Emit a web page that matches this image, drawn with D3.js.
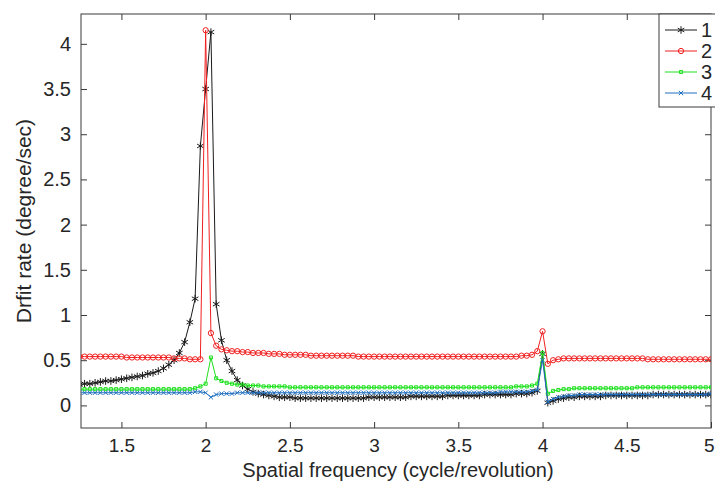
<!DOCTYPE html>
<head>
    <meta charset="utf-8">
    <script src="https://cdn.jsdelivr.net/npm/d3@7"></script>
    <style>
        body { margin: 0; background: #fff; }
        text { font-family: "Liberation Sans", Arial, sans-serif; fill: #262626; }
    </style>
</head>

<body>
    <div id="drift"></div>
</body>

<script>
    // spatial frequency (cycle/revolution)
    const freq = [
        1.25,1.28125,1.3125,1.34375,1.375,1.40625,1.4375,1.46875,
        1.5,1.53125,1.5625,1.59375,1.625,1.65625,1.6875,1.71875,
        1.75,1.78125,1.8125,1.84375,1.875,1.90625,1.9375,1.96875,
        2,2.03125,2.0625,2.09375,2.125,2.15625,2.1875,2.21875,
        2.25,2.28125,2.3125,2.34375,2.375,2.40625,2.4375,2.46875,
        2.5,2.53125,2.5625,2.59375,2.625,2.65625,2.6875,2.71875,
        2.75,2.78125,2.8125,2.84375,2.875,2.90625,2.9375,2.96875,
        3,3.03125,3.0625,3.09375,3.125,3.15625,3.1875,3.21875,
        3.25,3.28125,3.3125,3.34375,3.375,3.40625,3.4375,3.46875,
        3.5,3.53125,3.5625,3.59375,3.625,3.65625,3.6875,3.71875,
        3.75,3.78125,3.8125,3.84375,3.875,3.90625,3.9375,3.96875,
        4,4.03125,4.0625,4.09375,4.125,4.15625,4.1875,4.21875,
        4.25,4.28125,4.3125,4.34375,4.375,4.40625,4.4375,4.46875,
        4.5,4.53125,4.5625,4.59375,4.625,4.65625,4.6875,4.71875,
        4.75,4.78125,4.8125,4.84375,4.875,4.90625,4.9375,4.96875,
        5
    ];

    // drift rate (degree/sec), one array per curve
    const drift1 = [
        0.23,0.24,0.24,0.25,0.26,0.27,0.27,0.28,
        0.29,0.30,0.31,0.32,0.33,0.35,0.36,0.38,
        0.41,0.45,0.50,0.58,0.70,0.92,1.18,2.87,
        3.50,4.13,1.12,0.72,0.50,0.38,0.28,0.22,
        0.18,0.15,0.13,0.12,0.11,0.10,0.09,0.09,
        0.09,0.08,0.08,0.08,0.08,0.08,0.08,0.08,
        0.08,0.08,0.08,0.08,0.08,0.08,0.08,0.09,
        0.09,0.09,0.09,0.09,0.09,0.09,0.09,0.10,
        0.10,0.10,0.10,0.10,0.10,0.10,0.11,0.11,
        0.11,0.11,0.11,0.11,0.11,0.12,0.12,0.12,
        0.12,0.12,0.12,0.13,0.13,0.13,0.14,0.16,
        0.57,0.03,0.05,0.07,0.08,0.09,0.09,0.10,
        0.10,0.10,0.10,0.10,0.11,0.11,0.11,0.11,
        0.11,0.11,0.11,0.11,0.11,0.12,0.12,0.12,
        0.12,0.12,0.12,0.12,0.12,0.12,0.12,0.12,
        0.12
    ];
    const drift2 = [
        0.54,0.54,0.54,0.54,0.54,0.54,0.54,0.54,
        0.54,0.53,0.53,0.53,0.53,0.53,0.53,0.53,
        0.53,0.53,0.52,0.52,0.52,0.51,0.51,0.51,
        4.15,0.80,0.66,0.62,0.61,0.60,0.60,0.59,
        0.59,0.58,0.58,0.58,0.57,0.57,0.57,0.56,
        0.56,0.56,0.56,0.56,0.55,0.55,0.55,0.55,
        0.55,0.55,0.55,0.55,0.55,0.54,0.54,0.54,
        0.54,0.54,0.54,0.54,0.54,0.54,0.54,0.54,
        0.54,0.54,0.54,0.54,0.54,0.54,0.54,0.54,
        0.54,0.54,0.54,0.54,0.54,0.54,0.54,0.54,
        0.54,0.54,0.54,0.54,0.55,0.55,0.56,0.60,
        0.82,0.46,0.50,0.51,0.52,0.52,0.52,0.52,
        0.52,0.52,0.52,0.52,0.52,0.52,0.52,0.52,
        0.52,0.52,0.52,0.52,0.51,0.51,0.51,0.51,
        0.51,0.51,0.51,0.51,0.51,0.51,0.51,0.51,
        0.51
    ];
    const drift3 = [
        0.18,0.18,0.18,0.18,0.18,0.18,0.18,0.18,
        0.18,0.18,0.18,0.18,0.18,0.18,0.18,0.18,
        0.18,0.18,0.18,0.18,0.18,0.18,0.19,0.21,
        0.24,0.53,0.30,0.27,0.25,0.24,0.23,0.23,
        0.22,0.22,0.22,0.21,0.21,0.21,0.21,0.21,
        0.20,0.20,0.20,0.20,0.20,0.20,0.20,0.20,
        0.20,0.20,0.20,0.20,0.20,0.20,0.20,0.20,
        0.20,0.20,0.20,0.20,0.20,0.20,0.20,0.20,
        0.20,0.20,0.20,0.20,0.20,0.20,0.20,0.20,
        0.20,0.20,0.20,0.20,0.20,0.20,0.20,0.20,
        0.20,0.20,0.20,0.21,0.21,0.21,0.22,0.24,
        0.58,0.13,0.16,0.17,0.18,0.18,0.19,0.19,
        0.19,0.19,0.19,0.19,0.19,0.19,0.19,0.19,
        0.19,0.19,0.20,0.20,0.20,0.20,0.20,0.20,
        0.20,0.20,0.20,0.20,0.20,0.20,0.20,0.20,
        0.20
    ];
    const drift4 = [
        0.14,0.14,0.14,0.14,0.14,0.14,0.14,0.14,
        0.14,0.14,0.14,0.14,0.14,0.14,0.14,0.14,
        0.14,0.14,0.14,0.14,0.14,0.14,0.15,0.15,
        0.14,0.09,0.12,0.13,0.13,0.13,0.14,0.14,
        0.14,0.14,0.14,0.14,0.14,0.14,0.14,0.14,
        0.14,0.14,0.14,0.14,0.14,0.14,0.14,0.14,
        0.14,0.14,0.14,0.14,0.14,0.14,0.14,0.14,
        0.14,0.14,0.14,0.14,0.14,0.14,0.14,0.14,
        0.14,0.14,0.14,0.14,0.14,0.14,0.14,0.14,
        0.14,0.14,0.14,0.14,0.14,0.14,0.14,0.14,
        0.15,0.15,0.15,0.15,0.15,0.15,0.16,0.17,
        0.50,0.04,0.07,0.09,0.10,0.11,0.11,0.12,
        0.12,0.12,0.12,0.12,0.12,0.12,0.12,0.12,
        0.12,0.12,0.12,0.12,0.12,0.12,0.12,0.12,
        0.12,0.12,0.12,0.12,0.12,0.12,0.12,0.12,
        0.13
    ];

    const seriesNames = ["1", "2", "3", "4"];
    const xTicks = [1.5, 2, 2.5, 3, 3.5, 4, 4.5, 5];
    const yTicks = [0, 0.5, 1, 1.5, 2, 2.5, 3, 3.5, 4];

    const W = 715, H = 489;
    const plot = {left: 81, right: 711, top: 14, bottom: 428};

    const svg = d3.select("#drift")
        .append("svg")
        .attr("width", W)
        .attr("height", H);

    const x = d3.scaleLinear().domain([1.26, 5]).range([plot.left, plot.right]);
    const y = d3.scaleLinear().domain([-0.25, 4.33]).range([plot.bottom, plot.top]);

    const axisColor = "#3a3a3a";

    // axes, MATLAB style: ticks inside, box all round
    const gx = svg.append("g")
        .attr("transform", `translate(0,${plot.bottom})`)
        .call(d3.axisBottom(x).tickValues(xTicks).tickSizeInner(-6).tickSizeOuter(0).tickPadding(11).tickFormat(d3.format("")));
    const gxTop = svg.append("g")
        .attr("transform", `translate(0,${plot.top})`)
        .call(d3.axisTop(x).tickValues(xTicks).tickSizeInner(-6).tickSizeOuter(0).tickFormat(""));
    const gy = svg.append("g")
        .attr("transform", `translate(${plot.left},0)`)
        .call(d3.axisLeft(y).tickValues(yTicks).tickSizeInner(-6).tickSizeOuter(0).tickPadding(10).tickFormat(d3.format("")));
    const gyRight = svg.append("g")
        .attr("transform", `translate(${plot.right},0)`)
        .call(d3.axisRight(y).tickValues(yTicks).tickSizeInner(-6).tickSizeOuter(0).tickFormat(""));

    [gx, gxTop, gy, gyRight].forEach(g => {
        g.select(".domain").remove();
        g.selectAll("line").attr("stroke", axisColor);
        g.selectAll("text")
            .style("font-family", "'Liberation Sans', Arial, sans-serif")
            .attr("fill", "#262626");
    });
    gx.selectAll("text").style("font-size", "19px");
    gy.selectAll("text").style("font-size", "20px");
    // the last x label sits on the page edge; keep it inside the picture
    gx.selectAll("text").filter(d => d === 5).attr("text-anchor", "end").attr("dx", "3");

    svg.append("rect")
        .attr("x", plot.left).attr("y", plot.top)
        .attr("width", plot.right - plot.left)
        .attr("height", plot.bottom - plot.top)
        .attr("fill", "none")
        .attr("stroke", axisColor)
        .attr("stroke-width", 1);

    // axis titles
    svg.append("text")
        .attr("x", 398)
        .attr("y", 477)
        .attr("text-anchor", "middle")
        .style("font-size", "20px")
        .text("Spatial frequency (cycle/revolution)");

    svg.append("text")
        .attr("transform", `translate(31,${(plot.top + plot.bottom) / 2}) rotate(-90)`)
        .attr("text-anchor", "middle")
        .style("font-size", "21px")
        .text("Drfit rate (degree/sec)");

    // curves
    const asterisk = d3.symbolAsterisk || d3.symbolCross;
    const times = d3.symbolTimes || d3.symbolCross;
    const square = d3.symbolSquare2 || d3.symbolSquare;
    const series = [
        {name: seriesNames[0], values: drift1, color: "#1a1a1a", symbol: asterisk, size: 40},
        {name: seriesNames[1], values: drift2, color: "#f02020", symbol: d3.symbolCircle, size: 22},
        {name: seriesNames[2], values: drift3, color: "#1ee01e", symbol: square, size: 12},
        {name: seriesNames[3], values: drift4, color: "#1f6fc0", symbol: times, size: 14}
    ];

    svg.append("clipPath").attr("id", "plotclip")
        .append("rect")
        .attr("x", plot.left).attr("y", plot.top)
        .attr("width", plot.right - plot.left)
        .attr("height", plot.bottom - plot.top);

    const line = d3.line()
        .x(d => x(d[0]))
        .y(d => y(d[1]));

    const layer = svg.append("g").attr("clip-path", "url(#plotclip)");

    series.forEach(s => {
        const pts = freq.map((f, i) => [f, s.values[i]]);
        const g = layer.append("g");
        g.append("path")
            .datum(pts)
            .attr("fill", "none")
            .attr("stroke", s.color)
            .attr("stroke-width", 1)
            .attr("d", line);
        g.selectAll("path.mk")
            .data(pts)
            .enter()
            .append("path")
            .attr("class", "mk")
            .attr("transform", d => `translate(${x(d[0])},${y(d[1])})`)
            .attr("d", d3.symbol(s.symbol, s.size))
            .attr("fill", "none")
            .attr("stroke", s.color)
            .attr("stroke-width", 1);
    });

    // legend
    const legend = svg.append("g");
    legend.append("rect")
        .attr("x", 659).attr("y", plot.top)
        .attr("width", 70).attr("height", 93)
        .attr("fill", "#fff")
        .attr("stroke", axisColor);

    series.forEach((s, i) => {
        const ly = 30 + i * 21;
        legend.append("line")
            .attr("x1", 665).attr("x2", 697)
            .attr("y1", ly).attr("y2", ly)
            .attr("stroke", s.color);
        legend.append("path")
            .attr("transform", `translate(681,${ly})`)
            .attr("d", d3.symbol(s.symbol, s.size))
            .attr("fill", "none")
            .attr("stroke", s.color);
        legend.append("text")
            .attr("x", 701)
            .attr("y", ly + 7)
            .style("font-size", "20px")
            .text(s.name);
    });
</script>
</html>
